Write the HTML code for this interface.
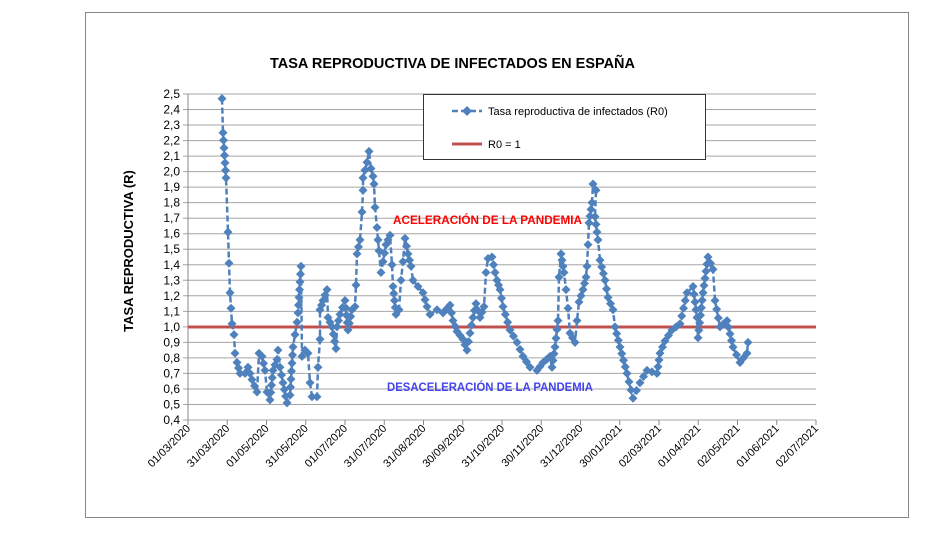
<!DOCTYPE html>
<html><head><meta charset="utf-8"><style>
body{margin:0;background:#fff;width:942px;height:535px;overflow:hidden}
svg{display:block;font-family:"Liberation Sans",sans-serif}
</style></head><body>
<svg id="s" width="942" height="535" xmlns="http://www.w3.org/2000/svg">
<rect x="85.5" y="12.5" width="823" height="505" fill="#fff" stroke="#888" stroke-width="1"/>
<g id="grid"></g>
<text x="270" y="68" textLength="365" lengthAdjust="spacingAndGlyphs" font-size="15" font-weight="bold">TASA REPRODUCTIVA DE INFECTADOS EN ESPAÑA</text>
<text transform="translate(133,251) rotate(-90)" text-anchor="middle" font-size="13" font-weight="bold">TASA REPRODUCTIVA (R)</text>
<text x="393" y="224" textLength="189" lengthAdjust="spacingAndGlyphs" font-size="12" font-weight="bold" fill="#ff0000">ACELERACIÓN  DE LA PANDEMIA</text>
<text x="387" y="391" textLength="206" lengthAdjust="spacingAndGlyphs" font-size="12" font-weight="bold" fill="#4444ee">DESACELERACIÓN DE LA PANDEMIA</text>
<line x1="188" y1="327" x2="816" y2="327" stroke="#c0504d" stroke-width="3"/>
<g id="ser"></g>
<rect x="423.5" y="94.5" width="282" height="65" fill="#fff" stroke="#333" stroke-width="1"/>
<line x1="452" y1="111" x2="482" y2="111" stroke="#4f81bd" stroke-width="2.5" stroke-dasharray="6,3"/>
<path d="M467 106 L472 111 L467 116 L462 111Z" fill="#4f81bd"/>
<text x="488" y="115" font-size="11">Tasa reproductiva de infectados (R0)</text>
<line x1="452" y1="144" x2="482" y2="144" stroke="#c0504d" stroke-width="3"/>
<text x="488" y="148" font-size="11">R0 = 1</text>
</svg>
<script>
var NS="http://www.w3.org/2000/svg";
function el(t,a,p){var e=document.createElementNS(NS,t);for(var k in a)e.setAttribute(k,a[k]);p.appendChild(e);return e;}
var g=document.getElementById('grid');
function Y(v){return 420-(v-0.4)*155.24;}
for(var i=0;i<=21;i++){var v=0.4+i*0.1,y=Y(v);
 el('line',{x1:183,x2:816,y1:y,y2:y,stroke:'#a6a6a6','stroke-width':1},g);
 var t=el('text',{x:180,y:y+4,'text-anchor':'end','font-size':12},g);t.textContent=v.toFixed(1).replace('.',',');}
el('line',{x1:188,x2:188,y1:94,y2:420,stroke:'#888'},g);
var labs=["01/03/2020","31/03/2020","01/05/2020","31/05/2020","01/07/2020","31/07/2020","31/08/2020","30/09/2020","31/10/2020","30/11/2020","31/12/2020","30/01/2021","02/03/2021","01/04/2021","02/05/2021","01/06/2021","02/07/2021"];
labs.forEach(function(l,i){var x=188+i*39.25;
 el('line',{x1:x,x2:x,y1:420,y2:425,stroke:'#888'},g);
 var t=el('text',{transform:'translate('+(x+3)+',429) rotate(-45)','text-anchor':'end','font-size':11},g);t.textContent=l;});
var P=[[222,2.47],[223,2.25],[226,1.96],[228,1.61],[229,1.41],[230,1.22],[231,1.12],[232,1.02],[234,0.95],[235,0.83],[237,0.77],[240,0.70],[245,0.70],[248,0.74],[252,0.66],[257,0.58],[259,0.83],[262,0.81],[265,0.72],[267,0.58],[270,0.53],[273,0.72],[277,0.79],[278,0.85],[280,0.74],[283,0.64],[287,0.51],[290,0.56],[293,0.87],[295,0.95],[297,1.03],[298,1.09],[301,1.39],[302,0.81],[305,0.85],[308,0.83],[310,0.64],[312,0.55],[317,0.55],[318,0.74],[320,0.92],[320,1.11],[323,1.17],[327,1.24],[328,1.06],[332,1.0],[336,0.86],[337,1.0],[340,1.08],[345,1.17],[348,0.98],[352,1.11],[355,1.13],[356,1.27],[357,1.47],[360,1.56],[362,1.74],[363,1.88],[363,1.96],[367,2.06],[369,2.13],[371,2.02],[373,1.97],[374,1.92],[375,1.77],[377,1.64],[378,1.56],[379,1.49],[381,1.35],[383,1.42],[386,1.53],[390,1.59],[392,1.4],[393,1.26],[396,1.08],[399,1.11],[401,1.3],[403,1.42],[405,1.57],[408,1.47],[411,1.39],[413,1.3],[418,1.26],[423,1.22],[427,1.13],[430,1.08],[437,1.11],[443,1.09],[450,1.14],[453,1.04],[457,0.97],[463,0.92],[467,0.85],[470,0.96],[473,1.06],[476,1.15],[480,1.06],[484,1.13],[486,1.35],[488,1.44],[492,1.45],[495,1.35],[497,1.3],[500,1.24],[503,1.13],[510,0.98],[517,0.9],[523,0.81],[530,0.74],[537,0.72],[543,0.77],[550,0.81],[552,0.74],[555,0.87],[558,1.04],[559,1.32],[561,1.47],[564,1.35],[566,1.24],[568,1.12],[570,0.96],[575,0.9],[577,1.04],[579,1.16],[583,1.24],[586,1.32],[587,1.39],[588,1.53],[589,1.67],[592,1.8],[593,1.92],[596,1.88],[595,1.71],[598,1.56],[600,1.43],[605,1.3],[608,1.19],[613,1.11],[615,1.0],[620,0.87],[627,0.7],[633,0.54],[640,0.64],[647,0.72],[657,0.7],[660,0.83],[665,0.91],[672,0.98],[680,1.02],[687,1.22],[693,1.26],[697,1.06],[698,0.93],[703,1.22],[708,1.45],[713,1.37],[715,1.17],[720,1.0],[727,1.04],[733,0.87],[740,0.77],[747,0.83],[748,0.9]];
var s=document.getElementById('ser');
var pts=P.map(function(p){return [p[0],Y(p[1])];});
el('polyline',{points:pts.map(function(p){return p.join(',')}).join(' '),fill:'none',stroke:'#4f81bd','stroke-width':2.5,'stroke-dasharray':'6,3'},s);
var M=[];pts.forEach(function(p,i){M.push(p);if(i<pts.length-1){var q=pts[i+1];var d=Math.hypot(q[0]-p[0],q[1]-p[1]);var n=Math.floor(d/9);for(var k=1;k<=n;k++){if(q[0]-p[0]>2)M.push([p[0]+(q[0]-p[0])*k/(n+1),p[1]+(q[1]-p[1])*k/(n+1)]);}}});
M.forEach(function(p){el('path',{d:'M'+p[0]+' '+(p[1]-4.5)+'L'+(p[0]+4.5)+' '+p[1]+'L'+p[0]+' '+(p[1]+4.5)+'L'+(p[0]-4.5)+' '+p[1]+'Z',fill:'#4f81bd'},s);});
</script>
</body></html>
